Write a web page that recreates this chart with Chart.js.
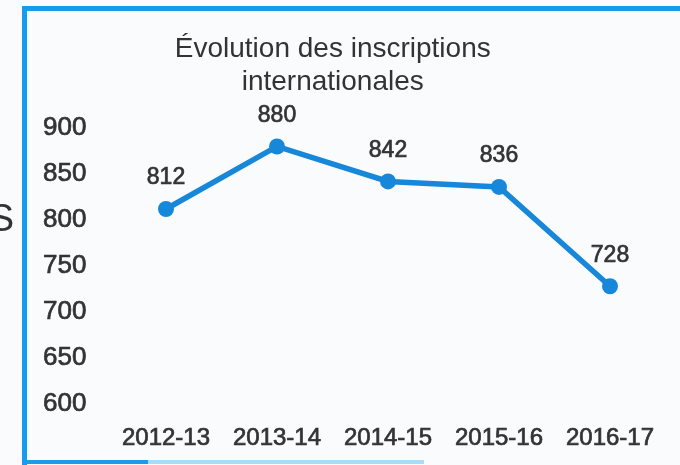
<!DOCTYPE html>
<html><head><meta charset="utf-8">
<script src="https://cdn.jsdelivr.net/npm/chart.js@4/dist/chart.umd.min.js"></script>
<style>html,body{margin:0;padding:0;background:#fafbfd;overflow:hidden}</style>
</head><body>
<canvas id="c" width="680" height="465" style="display:block;width:680px;height:465px"></canvas>
<script>
const categories = ['2012-13', '2013-14', '2014-15', '2015-16', '2016-17'];
const inscriptions = [812, 880, 842, 836, 728];
const yMin = 600, yMax = 900, yStep = 50;
const titleLines = ['Évolution des inscriptions', 'internationales'];
const sideLetter = 'S';

const FONT = "'Liberation Sans', Arial, sans-serif";
const TEXT = '#333333';
const BLUE = '#1787d9';

const decor = {
  id: 'decor',
  beforeDraw(chart) {
    const ctx = chart.ctx;
    ctx.save();
    ctx.fillStyle = '#fafbfd';
    ctx.fillRect(0, 0, chart.width, chart.height);
    // frame
    ctx.fillStyle = '#139cf0';
    ctx.fillRect(22, 6, 5, 459);
    ctx.fillRect(22, 6, 658, 5);
    ctx.fillStyle = '#1a9bee';
    ctx.fillRect(22, 460, 126, 4);
    ctx.fillStyle = '#a9dcf8';
    ctx.fillRect(148, 460, 276, 4);
    // cropped letter
    ctx.fillStyle = TEXT;
    ctx.font = '38px ' + FONT;
    ctx.textAlign = 'right';
    ctx.textBaseline = 'middle';
    ctx.fillText(sideLetter, 14, 221);
    ctx.restore();
  },
  afterDatasetsDraw(chart) {
    const ctx = chart.ctx;
    const meta = chart.getDatasetMeta(0);
    ctx.save();
    ctx.fillStyle = TEXT;
    ctx.strokeStyle = TEXT;
    ctx.lineWidth = 0.7;
    ctx.font = '23px ' + FONT;
    ctx.textAlign = 'center';
    ctx.textBaseline = 'middle';
    meta.data.forEach((pt, i) => {
      const s = String(inscriptions[i]);
      ctx.fillText(s, pt.x, pt.y - 31);
      ctx.strokeText(s, pt.x, pt.y - 31);
    });
    ctx.restore();
  }
};

new Chart(document.getElementById('c'), {
  type: 'line',
  data: {
    labels: categories,
    datasets: [{
      data: inscriptions,
      borderColor: BLUE,
      backgroundColor: BLUE,
      borderWidth: 5.5,
      pointRadius: 8,
      pointBorderWidth: 0,
      pointBackgroundColor: BLUE,
      tension: 0,
      clip: false
    }]
  },
  options: {
    responsive: false,
    animation: false,
    devicePixelRatio: 1,
    layout: { padding: { left: 0, right: 14.5, top: 0, bottom: 0 } },
    plugins: {
      legend: { display: false },
      tooltip: { enabled: false },
      title: {
        display: true,
        text: titleLines,
        color: TEXT,
        font: { family: FONT, size: 28, weight: 'normal', lineHeight: 1.18 },
        padding: { top: 33, bottom: 29 }
      }
    },
    scales: {
      x: {
        type: 'category',
        offset: true,
        grid: { display: false, drawTicks: false },
        border: { display: false },
        ticks: { color: TEXT, font: { family: FONT, size: 24 }, padding: 20, maxRotation: 0,
                 textStrokeColor: TEXT, textStrokeWidth: 0.7 },
        afterFit(s) { s.height = 61; }
      },
      y: {
        min: yMin, max: yMax,
        grid: { display: false, drawTicks: false },
        border: { display: false },
        ticks: { stepSize: yStep, color: TEXT, font: { family: FONT, size: 26 }, padding: 24,
                 textStrokeColor: TEXT, textStrokeWidth: 0.7 },
        afterFit(s) { s.width = 110.5; }
      }
    }
  },
  plugins: [decor]
});
</script>
</body></html>
